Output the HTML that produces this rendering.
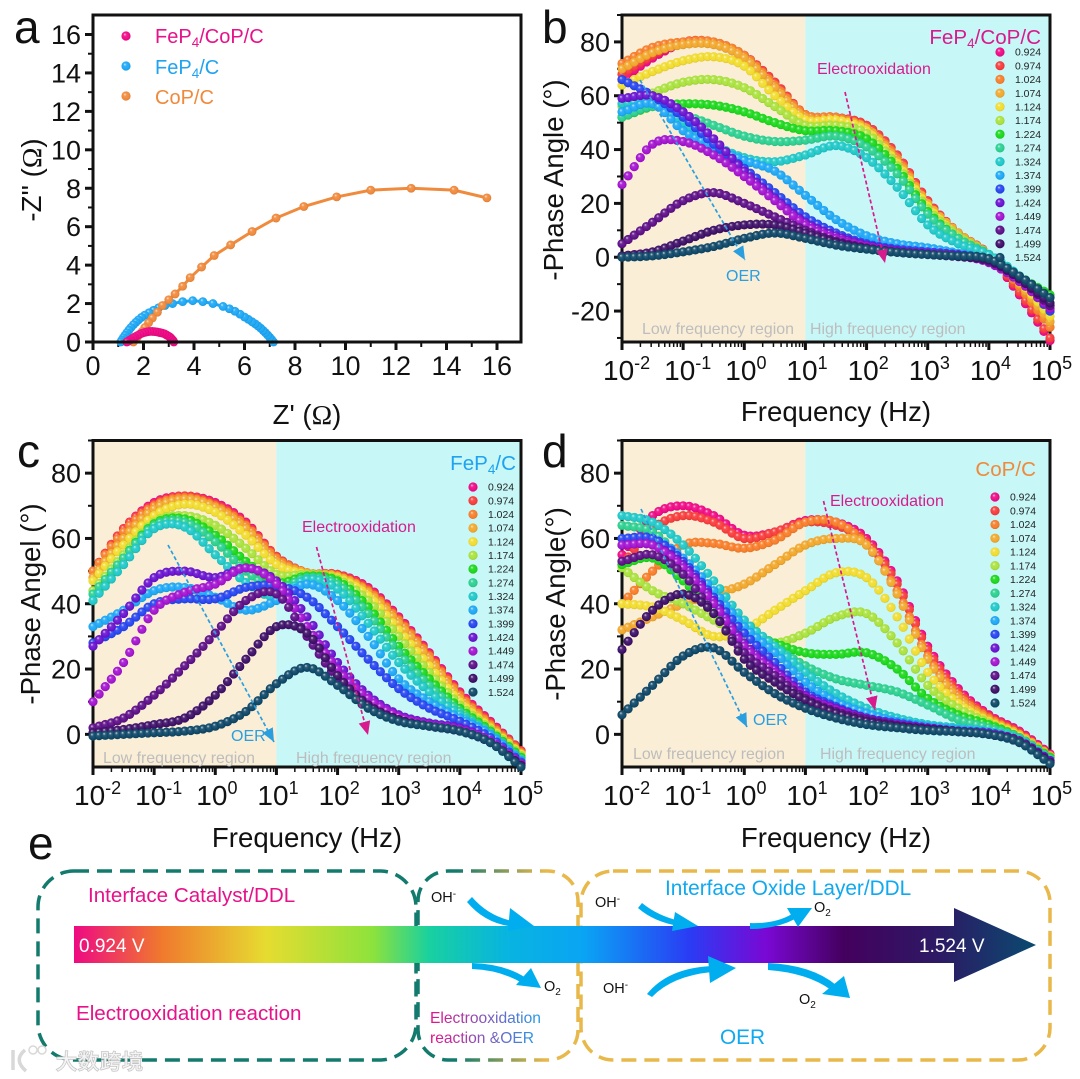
<!DOCTYPE html>
<html lang="en">
<head>
<meta charset="utf-8">
<title>Phase angle charts</title>
<style>
html,body{margin:0;padding:0;background:#fff;}
svg{display:block;}
text{font-family:"Liberation Sans","Noto Sans CJK SC",sans-serif;}
.title{font-size:27.6px;fill:#111;}
.panel{font-size:46px;fill:#111;}
.region{font-size:15.9px;fill:#bdbdbd;}
.eo{font-size:16px;fill:#d81b8c;}
.oer{font-size:16px;fill:#2a9fe0;}
.omega{font-family:"Liberation Serif",serif;}
</style>
</head>
<body>
<svg id="fig" xmlns="http://www.w3.org/2000/svg" width="1080" height="1079" viewBox="0 0 1080 1079">
<defs id="defs">
<linearGradient id="barGrad" gradientUnits="userSpaceOnUse" x1="74" y1="0" x2="1036" y2="0">
<stop offset="0" stop-color="#ee0a82"/><stop offset=".09" stop-color="#f0782e"/><stop offset=".2" stop-color="#e6dc30"/>
<stop offset=".31" stop-color="#8ee23c"/><stop offset=".37" stop-color="#18d0a0"/><stop offset=".45" stop-color="#08b4e0"/>
<stop offset=".53" stop-color="#0aa4f4"/><stop offset=".64" stop-color="#2a3cf4"/><stop offset=".72" stop-color="#7a08d4"/>
<stop offset=".8" stop-color="#44005e"/><stop offset=".9" stop-color="#2c1a64"/><stop offset="1" stop-color="#0a4a70"/>
</linearGradient>
<linearGradient id="midBox" gradientUnits="userSpaceOnUse" x1="416" y1="0" x2="578" y2="0">
<stop offset="0" stop-color="#137a6e"/><stop offset=".25" stop-color="#137a6e"/><stop offset=".8" stop-color="#e8b84a"/>
</linearGradient>
<linearGradient id="midText" gradientUnits="userSpaceOnUse" x1="430" y1="0" x2="546" y2="0">
<stop offset="0" stop-color="#e6128a"/><stop offset="1" stop-color="#18a4ee"/>
</linearGradient>
<marker id="headBlue" markerWidth="9" markerHeight="8" refX="8" refY="3.5" orient="auto" markerUnits="strokeWidth"><path d="M0 0L8 3.5L0 7z" fill="#2a9fe0"/></marker>
<marker id="headPink" markerWidth="9" markerHeight="8" refX="8" refY="3.5" orient="auto" markerUnits="strokeWidth"><path d="M0 0L8 3.5L0 7z" fill="#d81b8c"/></marker>
</defs>
<rect width="1080" height="1079" fill="#fff"/>

<!-- Panel a -->
<g id="plotA"></g>
<text class="panel" x="14" y="43">a</text>
<g transform="translate(41,180) rotate(-90)"><text class="title" text-anchor="middle">-Z'' (<tspan class="omega">Ω</tspan>)</text></g>
<text class="title" x="307" y="424" text-anchor="middle">Z' (<tspan class="omega">Ω</tspan>)</text>
<text x="155" y="43" font-size="20" fill="#e6128a">FeP<tspan dy="4" font-size="13.5">4</tspan><tspan dy="-4">/CoP/C</tspan></text>
<text x="155" y="74" font-size="20" fill="#1fa3f0">FeP<tspan dy="4" font-size="13.5">4</tspan><tspan dy="-4">/C</tspan></text>
<text x="155" y="104" font-size="20" fill="#ef8a3c">CoP/C</text>

<!-- Panel b -->
<g id="plotB"></g>
<text class="panel" x="542" y="43">b</text>
<g transform="translate(563,180) rotate(-90)"><text class="title" text-anchor="middle">-Phase Angle (°)</text></g>
<text class="title" x="836" y="421" text-anchor="middle">Frequency (Hz)</text>
<text class="region" x="642" y="334">Low frequency region</text>
<text class="region" x="810" y="334">High frequency region</text>
<text class="eo" x="817" y="74">Electrooxidation</text>
<text class="oer" x="726" y="281">OER</text>
<text x="1041" y="44" text-anchor="end" font-size="20.6" fill="#d81b8c">FeP<tspan dy="4" font-size="13.5">4</tspan><tspan dy="-4">/CoP/C</tspan></text>
<line x1="640" y1="80" x2="745" y2="260" stroke="#2a9fe0" stroke-width="1.7" stroke-dasharray="4 2.5" marker-end="url(#headBlue)"/>
<line x1="845" y1="92" x2="885" y2="263" stroke="#d81b8c" stroke-width="1.7" stroke-dasharray="4 2.5" marker-end="url(#headPink)"/>

<!-- Panel c -->
<g id="plotC"></g>
<text class="panel" x="17" y="467">c</text>
<g transform="translate(40,604) rotate(-90)"><text class="title" text-anchor="middle">-Phase Angel (°)</text></g>
<text class="title" x="307" y="847" text-anchor="middle">Frequency (Hz)</text>
<text class="region" x="103" y="763">Low frequency region</text>
<text class="region" x="296" y="763">High frequency region</text>
<text class="eo" x="302" y="532">Electrooxidation</text>
<text class="oer" x="231" y="741">OER</text>
<text x="516" y="470" text-anchor="end" font-size="20.6" fill="#1fa3f0">FeP<tspan dy="4" font-size="13.5">4</tspan><tspan dy="-4">/C</tspan></text>
<line x1="168" y1="545" x2="274" y2="742" stroke="#2a9fe0" stroke-width="1.7" stroke-dasharray="4 2.5" marker-end="url(#headBlue)"/>
<line x1="316.5" y1="547" x2="368" y2="735" stroke="#d81b8c" stroke-width="1.7" stroke-dasharray="4 2.5" marker-end="url(#headPink)"/>

<!-- Panel d -->
<g id="plotD"></g>
<text class="panel" x="542" y="467">d</text>
<g transform="translate(565,604) rotate(-90)"><text class="title" text-anchor="middle">-Phase Angle(°)</text></g>
<text class="title" x="836" y="847" text-anchor="middle">Frequency (Hz)</text>
<text class="region" x="633" y="759">Low frequency region</text>
<text class="region" x="820" y="759">High frequency region</text>
<text class="eo" x="830" y="506">Electrooxidation</text>
<text class="oer" x="753" y="725">OER</text>
<text x="1036" y="476" text-anchor="end" font-size="20.6" fill="#ef8a3c">CoP/C</text>
<line x1="641" y1="509" x2="747" y2="727" stroke="#2a9fe0" stroke-width="1.7" stroke-dasharray="4 2.5" marker-end="url(#headBlue)"/>
<line x1="823.5" y1="501" x2="875" y2="710" stroke="#d81b8c" stroke-width="1.7" stroke-dasharray="4 2.5" marker-end="url(#headPink)"/>

<!-- Panel e -->
<g>
<text class="panel" x="28" y="859">e</text>
<rect x="38" y="871" width="378" height="189" rx="36" fill="none" stroke="#137a6e" stroke-width="3.5" stroke-dasharray="15 8"/>
<rect x="418" y="871" width="160" height="189" rx="30" fill="none" stroke="url(#midBox)" stroke-width="3.5" stroke-dasharray="15 8"/>
<rect x="581" y="871" width="469" height="189" rx="32" fill="none" stroke="#e8b84a" stroke-width="3.5" stroke-dasharray="15 8"/>
<path d="M74 926H954V908L1036 945L954 982V963H74Z" fill="url(#barGrad)"/>
<text x="79" y="952" font-size="19" fill="#fff">0.924 V</text>
<text x="919" y="952" font-size="19" fill="#fff">1.524 V</text>
<text x="88" y="902" font-size="20.6" fill="#e6128a">Interface Catalyst/DDL</text>
<text x="76" y="1020" font-size="20.6" fill="#e6128a">Electrooxidation reaction</text>
<text x="665" y="895" font-size="20.8" fill="#10a8ee">Interface Oxide Layer/DDL</text>
<text x="720" y="1044" font-size="20.8" fill="#10a8ee">OER</text>
<text x="430" y="1023" font-size="15.6" fill="url(#midText)">Electrooxidation</text>
<text x="430" y="1043" font-size="15.6" fill="url(#midText)">reaction &amp;OER</text>
<g fill="#00aef0" stroke="none">
<g><path d="M472 897Q490 918 518 922L517 927Q486 925 467 902Z"/><path d="M510 908L534 926L508 931Z"/></g>
<g><path d="M472 963Q505 964 526 978L522 983Q500 970 472 969Z"/><path d="M531 968L541 988L516 985Z"/></g>
<g><path d="M642 903Q658 916 680 921L679 926Q654 922 638 908Z"/><path d="M675 912L698 926L672 931Z"/></g>
<g><path d="M750 923Q775 924 792 914L795 919Q776 929 750 929Z"/><path d="M787 908L812 908L798 927Z"/></g>
<g><path d="M647 994Q668 968 712 966L712 972Q672 976 652 997Z"/><path d="M708 956L736 968L710 983Z"/></g>
<g><path d="M768 963Q812 965 836 985L831 990Q808 973 768 970Z"/><path d="M844 976L850 998L822 994Z"/></g>
</g>
<g font-size="14.5" fill="#111">
<text x="431" y="902">OH<tspan dy="-5" font-size="10">-</tspan></text>
<text x="595" y="907">OH<tspan dy="-5" font-size="10">-</tspan></text>
<text x="603" y="993">OH<tspan dy="-5" font-size="10">-</tspan></text>
<text x="814" y="912">O<tspan dy="4" font-size="10">2</tspan></text>
<text x="544" y="991">O<tspan dy="4" font-size="10">2</tspan></text>
<text x="799" y="1004">O<tspan dy="4" font-size="10">2</tspan></text>
</g>
</g>

<!-- Watermark -->
<g>
<path d="M13 1050V1070M25 1050Q13 1060 26 1071" fill="none" stroke="#d8d8d8" stroke-width="3.5"/>
<circle cx="33" cy="1050" r="4" fill="none" stroke="#d8d8d8" stroke-width="1.5"/>
<circle cx="42" cy="1050" r="4" fill="none" stroke="#d8d8d8" stroke-width="1.5"/>
<text x="56" y="1069" font-size="21" letter-spacing="1" fill="#f4f4f4" stroke="#c4c4c4" stroke-width="1.5" paint-order="stroke" style='font-family:"Noto Sans CJK SC",sans-serif'>大数跨境</text>
</g>
</svg>

<script>
// ---------- Shared categories and tick labels ----------
const voltages = ['0.924','0.974','1.024','1.074','1.124','1.174','1.224','1.274','1.324','1.374','1.399','1.424','1.449','1.474','1.499','1.524'];
const voltageColors = ['#f00a86','#f83c3c','#f87e2a','#f2a82c','#f2dc2e','#aae23c','#1cd81c','#2cd090','#20c8c8','#1ea8f6','#2846f0','#6a14d0','#a414d0','#5e1088','#3e1068','#0f4868'];
const logFrequencies = [-2,-1.5,-1,-0.5,0,0.5,1,1.5,2,2.5,3,3.5,4,4.5,5];
const frequencyExponents = [-2,-1,0,1,2,3,4,5];
const impedanceTicks = [0,2,4,6,8,10,12,14,16];
const phaseTicksB = [80,60,40,20,0,-20];
const phaseTicksCD = [80,60,40,20,0];

// ---------- Panel a values ----------
const fep4copZre = [3.2,3.17,3.12,3.06,3.0,2.92,2.84,2.75,2.65,2.55,2.45,2.35,2.25,2.15,2.05,1.95,1.85,1.75,1.65,1.58,1.5,1.44,1.38,1.34];
const fep4copZim = [0,0.08,0.16,0.24,0.3,0.36,0.42,0.46,0.49,0.52,0.54,0.55,0.55,0.53,0.5,0.46,0.4,0.33,0.26,0.2,0.13,0.08,0.03,0];
const fep4Zre = [7.15,7.08,7,6.92,6.83,6.74,6.64,6.53,6.42,6.3,6.15,6.0,5.82,5.62,5.4,5.15,4.75,4.35,3.95,3.55,3.15,2.85,2.6,2.4,2.22,2.05,1.92,1.8,1.7,1.6,1.5,1.42,1.34,1.27,1.2,1.14,1.1];
const fep4Zim = [0,0.12,0.24,0.36,0.48,0.6,0.72,0.84,0.95,1.05,1.18,1.3,1.45,1.6,1.73,1.85,2.0,2.1,2.15,2.1,2.0,1.9,1.78,1.65,1.52,1.4,1.28,1.15,1.03,0.9,0.75,0.62,0.48,0.35,0.22,0.1,0];
const copZre = [15.6,14.3,12.6,11.0,9.65,8.35,7.25,6.3,5.45,4.8,4.3,3.85,3.55,3.25,3.0,2.75,2.55,2.35,2.2,2.05,1.95,1.85,1.75,1.65,1.6];
const copZim = [7.5,7.9,8.0,7.9,7.55,7.05,6.45,5.75,5.05,4.5,3.9,3.35,2.9,2.5,2.2,1.9,1.55,1.25,1.0,0.75,0.55,0.4,0.25,0.1,0];

// ---------- Panel b phase values (one row per voltage, one value per logFrequencies entry) ----------
const phaseB = [
[66,74,79.5,79.5,75,65,53,52,49,38,21,9,1,-14,-31],
[68,75,80,80,75,65,53,52,49,38,21,9,1,-13,-30],
[72,78,80,80,75,64,53,52,48,37,20,9,1,-11,-26],
[70,76,79,79,74,63,52,51,48,36,20,9,1,-10,-24],
[64,69,73,74.5,71,60,51,51,47,35,19,8,1,-9,-22],
[56,61,65,66,63,56,49,49,46,34,18,8,1,-8,-20],
[52,56,57,56.5,54,50,47,47,44,33,17,7,1,-7,-14],
[52,56,53,49,45,43,43.5,45,41,31,16,7,1,-7,-17],
[57,57,50,42,37,35.5,38,41.5,37,26,12,5,1,-7,-18],
[54,57,47,41,36,32,23,14,8,5,3.5,1.5,-1,-8,-20],
[66,60,52,42,33,24,15,9,5,3,2,1,-1,-8,-20],
[59,60,54,44,32,22,13,8,4.5,2.5,1.5,0.8,-1,-8,-19],
[27,42,43,38,30,21,12,7,4,2.2,1.4,0.5,-2,-9,-19],
[5,13,21,24,20,15,10,6,3.5,2,1.2,0.3,-1.5,-8,-18],
[0.5,2,6,10,12,12,9,5.5,3.2,1.8,1,0.2,-1,-8,-17],
[0,0.5,2,4,7,9,7,4.5,3,1.8,1,0.5,-0.5,-7,-15]
];

// ---------- Panel c phase values ----------
const phaseC = [
[50,63,71,73,71,65,54.5,49.5,49,45,36,25,13,4,-5],
[50,63,70.5,73,70.5,64.5,54.5,49.5,49,44.5,35.5,24.5,12.5,3.5,-5],
[50,62,70,72.5,70,64,54,49.5,48.5,44,35,24,12,3,-5.5],
[48,60,69,72,69.5,63,53,49.5,48.5,43.5,34,23,11,2.5,-6],
[47,58,67,70.5,68,61,52,49,48,42.5,32,21,10,2,-6],
[44,55,65,67,64,57,49,49,47.5,41,30,19,9,1.5,-6.5],
[41,54,64.5,66,61,53,46.5,48.5,47,39,27,17,8,1,-7],
[43,54,64,65,59,50,44.5,48,46,37,25,15,7,0.5,-7.5],
[41,52,63,63.5,55,46.5,42,47.5,44.5,34,22,13,6,0,-8],
[33,38,44,45,42,38,41,46,41,30,17,10,5,0,-8],
[28,33,40,41.5,41.5,45,45.5,42,33,23,14,8,4,-1,-8.5],
[27,37,48,50,48,51,47,36,22,12,6,3.5,2,-2,-9],
[10,22,38,43.5,46,51,46,33,20,11,5.5,3,1.5,-2,-9],
[2,5,12,21,31,41,43,30,17,9,4.5,2.5,1,-2.5,-9.5],
[0.5,1.5,3,5,12,23,33,31,18,9,4.5,2.5,1,-2.5,-9.5],
[-0.5,0,0.5,1,2.5,7,15.5,20.5,15,8,4,2.5,1,-2.5,-10]
];

// ---------- Panel d phase values ----------
const phaseD = [
[55,67,70,67,61,62,65.5,65,60,47,27,14,6,1,-6],
[52,63,67,65,60,62,65,64,59,46,26,13,5.5,0.5,-6.5],
[40,50,58,58.5,57,59.5,65,65,58,44,24,12,5,0,-6.5],
[32,36,40,43,46,52,58,60,58,43,23,11,4.5,0,-6.5],
[40,39,35,30,32,38,44,49.5,48,36,19,9.5,4,-0.5,-7],
[51,44,40,35,30,28,31,36,37,28,15,8,3.5,-1,-7],
[52,54,47,38,32,28,25,24.5,25,20,11,6,3,-1,-7],
[64,62,53,43,34,27,21,17,15,13,9,4.5,2,-1,-7.5],
[67,65,58,47,35,27,19,12.5,8,5,3,2,1,-1.5,-8],
[60,60,54,44,33,25,16,10,6.5,4,2.5,1.5,0.5,-2,-8],
[60,60,53,42,31,22,13,8.5,5,3.5,2,1,0.5,-2,-8],
[58,58,52,41,28,20,12,8,5,3,2,1,0.3,-2,-8],
[58,58,51,40,27,19,11.5,7.5,4.5,3,1.8,1,0.2,-2,-8.5],
[53,55,49,37,25,18,11,7,4.5,2.8,1.7,1,0,-2,-8.5],
[26,38,43,37,23,16,10.5,6.5,4,2.5,1.6,0.8,0,-2.5,-8.5],
[6,15,24,26.5,19,12.5,8,5,3,2,1.2,0.8,0,-2.5,-9]
];

// ---------- Drawing ----------
const NS = 'http://www.w3.org/2000/svg';
const defsEl = document.getElementById('defs');

function mk(tag, attrs, parent) {
  const el = document.createElementNS(NS, tag);
  for (const k in attrs) el.setAttribute(k, attrs[k]);
  parent.appendChild(el);
  return el;
}
function linearAxis(d0, d1, r0, r1) {
  return function (v) { return r0 + (v - d0) * (r1 - r0) / (d1 - d0); };
}
function mixColor(hex, target, t) {
  const n = parseInt(hex.slice(1), 16);
  const ch = [(n >> 16) & 255, (n >> 8) & 255, n & 255];
  return 'rgb(' + ch.map(function (c) { return Math.round(c + (target - c) * t); }).join(',') + ')';
}
function sphereGradient(id, color) {
  const g = mk('radialGradient', { id: id, cx: '0.5', cy: '0.5', r: '0.55', fx: '0.36', fy: '0.3' }, defsEl);
  mk('stop', { offset: '0', 'stop-color': mixColor(color, 255, 0.8) }, g);
  mk('stop', { offset: '0.3', 'stop-color': mixColor(color, 255, 0.1) }, g);
  mk('stop', { offset: '0.75', 'stop-color': color }, g);
  mk('stop', { offset: '1', 'stop-color': mixColor(color, 0, 0.15) }, g);
}
voltageColors.forEach(function (c, i) { sphereGradient('sphere' + i, c); });
sphereGradient('spherePink', '#f00a86');
sphereGradient('sphereBlue', '#1ea8f6');
sphereGradient('sphereOrange', '#f08a3c');

function curveValue(values, pos) {
  const n = values.length;
  const i = Math.min(Math.floor(pos), n - 2);
  const t = pos - i;
  const p1 = values[i], p2 = values[i + 1];
  const p0 = i > 0 ? values[i - 1] : p1 - (p2 - p1);
  const p3 = i < n - 2 ? values[i + 2] : p2 + (p2 - p1);
  return 0.5 * (2 * p1 + (p2 - p0) * t + (2 * p0 - 5 * p1 + 4 * p2 - p3) * t * t + (3 * p1 - p0 - 3 * p2 + p3) * t * t * t);
}
function drawFrame(parent, box) {
  const el = mk('rect', { x: box.left, y: box.top, width: box.right - box.left, height: box.bottom - box.top, fill: 'none', stroke: '#111', 'stroke-width': 3 }, parent);
  
  
}
function yTick(parent, y, x0, len, sw) {
  const el = mk('line', { x1: x0 - len, x2: x0, y1: y, y2: y, stroke: '#111', 'stroke-width': sw }, parent);
  
  
}
function xTick(parent, x, y0, len, sw) {
  const el = mk('line', { x1: x, x2: x, y1: y0, y2: y0 + len, stroke: '#111', 'stroke-width': sw }, parent);
  
  
}
function yLabel(parent, v, x, y) {
  const el = mk('text', { x: x, y: y + 9.5, 'text-anchor': 'end', 'font-size': 27, fill: '#111' }, parent);
  el.textContent = String(v);
  
  
}

function drawPhasePanel(parent, box, ticks, values, legend) {
  const xAxis = linearAxis(-2, 5, box.left, box.right);
  const yAxis = linearAxis(box.yMin, 90, box.bottom, box.top);

  const low = mk('rect', { x: box.left, y: box.top, width: xAxis(1) - box.left, height: box.bottom - box.top, fill: '#faeed6' }, parent);
  
  
  const high = mk('rect', { x: xAxis(1), y: box.top, width: box.right - xAxis(1), height: box.bottom - box.top, fill: '#c8f7f8' }, parent);
  
  
  drawFrame(parent, box);

  ticks.forEach(function (v) {
    yTick(parent, yAxis(v), box.left, 8, 3);
    yLabel(parent, v, box.left - 12, yAxis(v));
    if (yAxis(v - 10) < box.bottom) yTick(parent, yAxis(v - 10), box.left, 5, 2);
  });
  yTick(parent, yAxis(90), box.left, 5, 2);

  frequencyExponents.forEach(function (e) {
    const x = xAxis(e);
    xTick(parent, x, box.bottom, 8, 3);
    if (e < 5) {
      for (let m = 2; m < 10; m++) xTick(parent, xAxis(e + Math.log10(m)), box.bottom, 5, 1.5);
    }
    const t = mk('text', { x: x - 19, y: box.bottom + 38, 'font-size': 28, fill: '#111' }, parent);
    
    
    t.appendChild(document.createTextNode('10'));
    const sup = mk('tspan', { dy: -11, 'font-size': 18 }, t);
    sup.textContent = String(e);
  });

  const step = (logFrequencies[1] - logFrequencies[0]) / 5;
  const count = Math.round((logFrequencies[logFrequencies.length - 1] - logFrequencies[0]) / step);
  values.forEach(function (series, s) {
    const g = mk('g', {}, parent);
    
    
    for (let i = 0; i <= count; i++) {
      const pos = i / 5;
      const f = logFrequencies[0] + i * step;
      const c = mk('circle', { cx: xAxis(f), cy: yAxis(curveValue(series, pos)), r: 4.6, fill: 'url(#sphere' + s + ')' }, g);
      
      
    }
  });

  voltages.forEach(function (v, s) {
    const ly = legend.y0 + s * legend.dy;
    const c = mk('circle', { cx: legend.x, cy: ly, r: 4.6, fill: 'url(#sphere' + s + ')' }, parent);
    
    
    const t = mk('text', { x: legend.x + 15, y: ly + 3.7, 'font-size': 10.4, fill: '#222' }, parent);
    t.textContent = v;
    
    
  });
}

function drawNyquist(parent) {
  const box = { left: 93, right: 521, top: 15, bottom: 342 };
  const xAxis = linearAxis(0, 16, 93, 497);
  const yAxis = linearAxis(0, 16, 342, 34.5);
  drawFrame(parent, box);

  impedanceTicks.forEach(function (v) {
    yTick(parent, yAxis(v), box.left, 8, 3);
    yLabel(parent, v, box.left - 12, yAxis(v));
    if (v < 16) yTick(parent, yAxis(v + 1), box.left, 5, 2);
    xTick(parent, xAxis(v), box.bottom, 8, 3);
    if (v < 16) xTick(parent, xAxis(v + 1), box.bottom, 5, 2);
    const t = mk('text', { x: xAxis(v), y: box.bottom + 33, 'text-anchor': 'middle', 'font-size': 27, fill: '#111' }, parent);
    t.textContent = String(v);
    
    
  });

  const sets = [
    { xs: fep4Zre, ys: fep4Zim, color: '#1ea8f6', fill: 'sphereBlue', name: 'fep4-c', ly: 66 },
    { xs: copZre, ys: copZim, color: '#f08a3c', fill: 'sphereOrange', name: 'cop-c', ly: 96 },
    { xs: fep4copZre, ys: fep4copZim, color: '#f00a86', fill: 'spherePink', name: 'fep4-cop-c', ly: 36 }
  ];
  sets.forEach(function (set) {
    const g = mk('g', {}, parent);
    
    
    const pts = set.xs.map(function (x, i) { return xAxis(x) + ',' + yAxis(set.ys[i]); }).join(' ');
    const line = mk('polyline', { points: pts, fill: 'none', stroke: set.color, 'stroke-width': 3 }, g);
    
    
    set.xs.forEach(function (x, i) {
      const c = mk('circle', { cx: xAxis(x), cy: yAxis(set.ys[i]), r: 4.4, fill: 'url(#' + set.fill + ')' }, g);
      
      
    });
    const lg = mk('circle', { cx: 126, cy: set.ly, r: 4.6, fill: 'url(#' + set.fill + ')' }, parent);
    
    
  });
  const axisLine = mk('line', { x1: 93, x2: 521, y1: 342, y2: 342, stroke: '#111', 'stroke-width': 3 }, parent);
  
  
}

drawNyquist(document.getElementById('plotA'));
drawPhasePanel(document.getElementById('plotB'),
  { left: 622, right: 1050, top: 15, bottom: 342, yMin: -31.5 }, phaseTicksB, phaseB,
  { x: 1000, y0: 52, dy: 13.7 });
drawPhasePanel(document.getElementById('plotC'),
  { left: 93, right: 521, top: 440.5, bottom: 767, yMin: -10 }, phaseTicksCD, phaseC,
  { x: 473, y0: 487, dy: 13.67 });
drawPhasePanel(document.getElementById('plotD'),
  { left: 622, right: 1050, top: 440.5, bottom: 767, yMin: -10 }, phaseTicksCD, phaseD,
  { x: 995, y0: 497, dy: 13.73 });
</script>
</body>
</html>
